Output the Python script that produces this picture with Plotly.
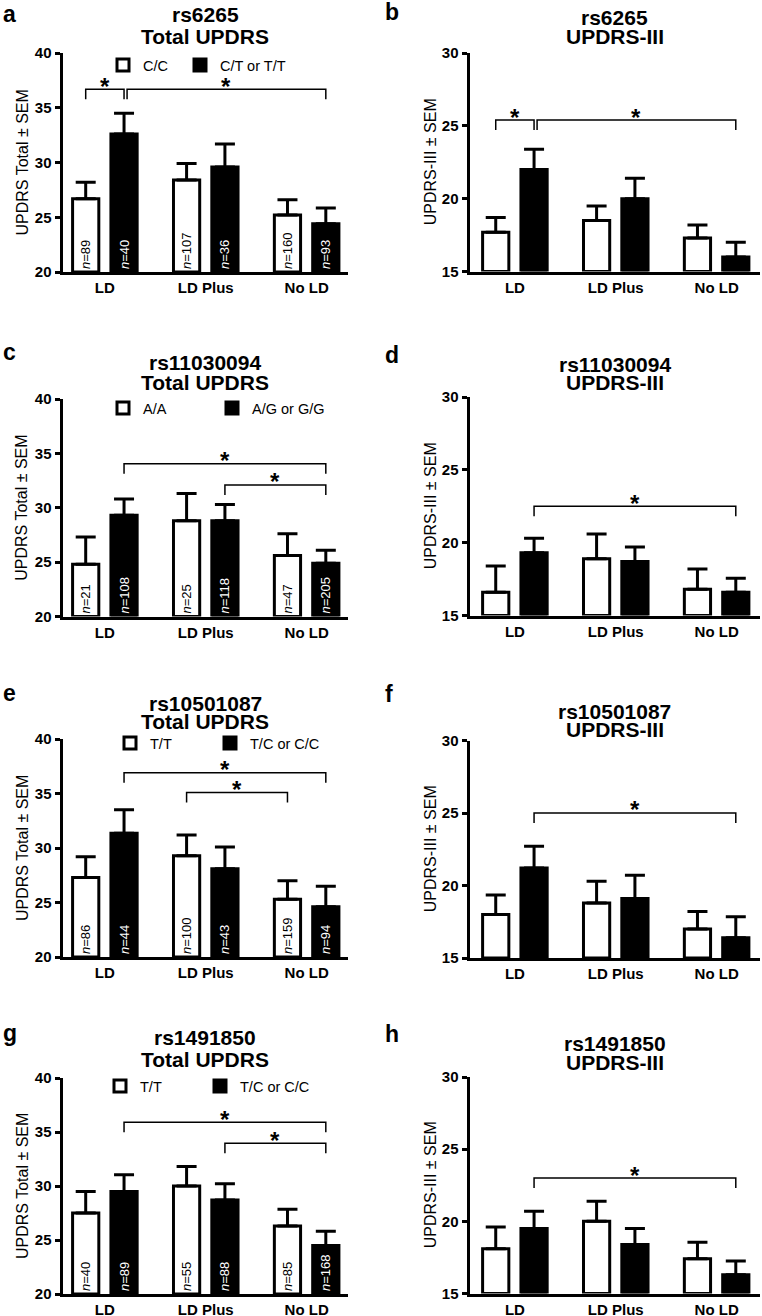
import plotly.graph_objects as go

W, H = 762, 1316
FONT = "Liberation Sans"

# ---------------- data ----------------
CATEGORIES = ["LD", "LD Plus", "No LD"]
X_POS = [0, 1, 2]

# a: rs6265 Total UPDRS
A_REF_NAME, A_ALT_NAME = "C/C", "C/T or T/T"
A_REF_MEAN = [26.7, 28.4, 25.2]
A_REF_SEM = [1.5, 1.5, 1.4]
A_ALT_MEAN = [32.6, 29.6, 24.4]
A_ALT_SEM = [1.9, 2.1, 1.45]
A_REF_N = [89, 107, 160]
A_ALT_N = [40, 36, 93]
A_SIG = [((0, 0), (0, 1), 36.7), ((0, 1), (2, 1), 36.7)]

# b: rs6265 UPDRS-III
B_REF_MEAN = [17.7, 18.5, 17.3]
B_REF_SEM = [1.0, 1.0, 0.9]
B_ALT_MEAN = [22.0, 20.0, 16.0]
B_ALT_SEM = [1.4, 1.4, 1.0]
B_SIG = [((0, 0), (0, 1), 25.4), ((0, 1), (2, 1), 25.4)]

# c: rs11030094 Total UPDRS
C_REF_NAME, C_ALT_NAME = "A/A", "A/G or G/G"
C_REF_MEAN = [24.8, 28.8, 25.6]
C_REF_SEM = [2.5, 2.5, 2.0]
C_ALT_MEAN = [29.3, 28.8, 24.9]
C_ALT_SEM = [1.5, 1.5, 1.2]
C_REF_N = [21, 25, 47]
C_ALT_N = [108, 118, 205]
C_SIG = [((0, 1), (2, 1), 34.05), ((1, 1), (2, 1), 32.1)]

# d: rs11030094 UPDRS-III
D_REF_MEAN = [16.6, 18.9, 16.8]
D_REF_SEM = [1.8, 1.7, 1.4]
D_ALT_MEAN = [19.3, 18.7, 16.6]
D_ALT_SEM = [1.0, 1.0, 0.95]
D_SIG = [((0, 1), (2, 1), 22.5)]

# e: rs10501087 Total UPDRS
E_REF_NAME, E_ALT_NAME = "T/T", "T/C or C/C"
E_REF_MEAN = [27.3, 29.3, 25.3]
E_REF_SEM = [1.9, 1.9, 1.7]
E_ALT_MEAN = [31.35, 28.1, 24.6]
E_ALT_SEM = [2.15, 2.0, 1.9]
E_REF_N = [86, 100, 159]
E_ALT_N = [44, 43, 94]
E_SIG = [((0, 1), (2, 1), 36.9), ((1, 0), (2, 0), 35.1)]

# f: rs10501087 UPDRS-III
F_REF_MEAN = [18.0, 18.8, 17.0]
F_REF_SEM = [1.35, 1.5, 1.2]
F_ALT_MEAN = [21.2, 19.1, 16.4]
F_ALT_SEM = [1.5, 1.6, 1.45]
F_SIG = [((0, 1), (2, 1), 25.0)]

# g: rs1491850 Total UPDRS
G_REF_NAME, G_ALT_NAME = "T/T", "T/C or C/C"
G_REF_MEAN = [27.5, 30.0, 26.3]
G_REF_SEM = [2.0, 1.8, 1.55]
G_ALT_MEAN = [29.5, 28.7, 24.5]
G_ALT_SEM = [1.55, 1.5, 1.3]
G_REF_N = [40, 55, 85]
G_ALT_N = [89, 88, 168]
G_SIG = [((0, 1), (2, 1), 35.9), ((1, 1), (2, 1), 33.95)]

# h: rs1491850 UPDRS-III
H_REF_MEAN = [18.1, 20.0, 17.4]
H_REF_SEM = [1.5, 1.4, 1.15]
H_ALT_MEAN = [19.5, 18.4, 16.3]
H_ALT_SEM = [1.2, 1.1, 0.95]
H_SIG = [((0, 1), (2, 1), 23.0)]

TOTAL_LABEL = "UPDRS Total ± SEM"
III_LABEL = "UPDRS-III ± SEM"
TOTAL_RANGE = (20, 40)
III_RANGE = (15, 30)

panels = [
    dict(letter="a", snp="rs6265", measure="Total UPDRS", ylab=TOTAL_LABEL, yr=TOTAL_RANGE,
         ref=(A_REF_MEAN, A_REF_SEM, A_REF_N), alt=(A_ALT_MEAN, A_ALT_SEM, A_ALT_N),
         names=(A_REF_NAME, A_ALT_NAME), sig=A_SIG),
    dict(letter="b", snp="rs6265", measure="UPDRS-III", ylab=III_LABEL, yr=III_RANGE,
         ref=(B_REF_MEAN, B_REF_SEM, None), alt=(B_ALT_MEAN, B_ALT_SEM, None),
         names=(A_REF_NAME, A_ALT_NAME), sig=B_SIG),
    dict(letter="c", snp="rs11030094", measure="Total UPDRS", ylab=TOTAL_LABEL, yr=TOTAL_RANGE,
         ref=(C_REF_MEAN, C_REF_SEM, C_REF_N), alt=(C_ALT_MEAN, C_ALT_SEM, C_ALT_N),
         names=(C_REF_NAME, C_ALT_NAME), sig=C_SIG),
    dict(letter="d", snp="rs11030094", measure="UPDRS-III", ylab=III_LABEL, yr=III_RANGE,
         ref=(D_REF_MEAN, D_REF_SEM, None), alt=(D_ALT_MEAN, D_ALT_SEM, None),
         names=(C_REF_NAME, C_ALT_NAME), sig=D_SIG),
    dict(letter="e", snp="rs10501087", measure="Total UPDRS", ylab=TOTAL_LABEL, yr=TOTAL_RANGE,
         ref=(E_REF_MEAN, E_REF_SEM, E_REF_N), alt=(E_ALT_MEAN, E_ALT_SEM, E_ALT_N),
         names=(E_REF_NAME, E_ALT_NAME), sig=E_SIG),
    dict(letter="f", snp="rs10501087", measure="UPDRS-III", ylab=III_LABEL, yr=III_RANGE,
         ref=(F_REF_MEAN, F_REF_SEM, None), alt=(F_ALT_MEAN, F_ALT_SEM, None),
         names=(E_REF_NAME, E_ALT_NAME), sig=F_SIG),
    dict(letter="g", snp="rs1491850", measure="Total UPDRS", ylab=TOTAL_LABEL, yr=TOTAL_RANGE,
         ref=(G_REF_MEAN, G_REF_SEM, G_REF_N), alt=(G_ALT_MEAN, G_ALT_SEM, G_ALT_N),
         names=(G_REF_NAME, G_ALT_NAME), sig=G_SIG),
    dict(letter="h", snp="rs1491850", measure="UPDRS-III", ylab=III_LABEL, yr=III_RANGE,
         ref=(H_REF_MEAN, H_REF_SEM, None), alt=(H_ALT_MEAN, H_ALT_SEM, None),
         names=(G_REF_NAME, G_ALT_NAME), sig=H_SIG),
]

# ---------------- layout geometry (pixels) ----------------
COLS = [dict(x0=62.5, x1=348, xr=(-0.42, 2.41), ytitle_x=22, letter_x=1),
        dict(x0=469.5, x1=760, xr=(-0.45, 2.43), ytitle_x=430, letter_x=383)]
PLOT_Y = {"a": (53, 272), "b": (53, 271.5), "c": (399, 616.5), "d": (397, 615.5),
          "e": (739, 957), "f": (740.5, 958), "g": (1078, 1294), "h": (1077, 1293.5)}
TITLE_OFF = {"a": (-38, -16.5), "b": (-35.5, -16.5), "c": (-37, -17), "d": (-33, -15),
             "e": (-36, -17.5), "f": (-29.5, -11.5), "g": (-41, -19), "h": (-33.5, -15)}
LETTER_Y = {"a": 14, "b": 12, "c": 352, "d": 355, "e": 693, "f": 694, "g": 1033, "h": 1034}
# legend: (text start of first entry, text start of second entry, centre y)
LEGEND_POS = {"a": (148, 225, 65), "c": (148, 257, 408), "e": (155, 255, 743), "g": (145, 245, 1086)}
LEGEND_TEXT_OFFSET = 45

HALF = 0.19
BAR_W = 0.26
DROP_PX = 10

def px_x(p):
    return p / W

def px_y(p):
    return 1 - p / H

fig = go.Figure()
annotations = []
layout_extra = {}
legend_counter = [0]

def next_legend_id():
    legend_counter[0] += 1
    return "legend" if legend_counter[0] == 1 else f"legend{legend_counter[0]}"

for i, P in enumerate(panels):
    col = COLS[i % 2]
    k = i + 1
    xa = "x" if k == 1 else f"x{k}"
    ya = "y" if k == 1 else f"y{k}"
    xname = "xaxis" if k == 1 else f"xaxis{k}"
    yname = "yaxis" if k == 1 else f"yaxis{k}"
    top, bot = PLOT_Y[P["letter"]]
    ymin, ymax = P["yr"]
    px_per_unit = (bot - top) / (ymax - ymin)
    has_legend = P["letter"] in LEGEND_POS

    for g, (series, fill, txtcol) in enumerate([(P["ref"], "white", "black"), (P["alt"], "black", "white")]):
        mean, sem, n = series
        off = -HALF if g == 0 else HALF
        texts = None
        if n is not None:
            texts = [f"<i>n</i>={v}" for v in n]
        lg = None
        if has_legend:
            lg = next_legend_id()
            tx0, tx1, ly = LEGEND_POS[P["letter"]]
            tx = tx0 if g == 0 else tx1
            layout_extra[lg] = dict(
                orientation="h", x=px_x(tx - LEGEND_TEXT_OFFSET), y=px_y(ly),
                xanchor="left", yanchor="middle", bgcolor="rgba(0,0,0,0)", borderwidth=0,
                font=dict(family=FONT, size=14.5, color="black"),
            )
        fig.add_trace(go.Bar(
            x=X_POS, y=[m - ymin for m in mean], base=ymin,
            offset=off - BAR_W / 2, width=BAR_W,
            marker=dict(color=fill, line=dict(color="black", width=3)),
            error_y=dict(type="data", array=sem, arrayminus=[0] * len(sem), symmetric=False,
                         color="black", thickness=3, width=10),
            text=texts, textposition="inside" if texts else "none",
            insidetextanchor="start", textangle=-90,
            insidetextfont=dict(family=FONT, size=13, color=txtcol),
            name=P["names"][g], showlegend=lg is not None, legend=lg if lg else "legend",
            xaxis=xa, yaxis=ya, hoverinfo="skip",
        ))

    # significance brackets
    drop = DROP_PX / px_per_unit
    ends_used = []
    for (c1, g1), (c2, g2), yb in P["sig"]:
        xs = X_POS[c1] + (-HALF if g1 == 0 else HALF)
        xe = X_POS[c2] + (-HALF if g2 == 0 else HALF)
        if any(abs(xs - e) < 1e-9 for e in ends_used):
            xs += 0.03
        ends_used.append(xe)
        fig.add_trace(go.Scatter(
            x=[xs, xs, xe, xe], y=[yb - drop, yb, yb, yb - drop], mode="lines",
            line=dict(color="black", width=1.5), showlegend=False, hoverinfo="skip",
            xaxis=xa, yaxis=ya,
        ))
        annotations.append(dict(
            x=(xs + xe) / 2, y=yb, xref=xa, yref=ya, text="<b>*</b>", showarrow=False,
            font=dict(family=FONT, size=24, color="black"), xanchor="center",
            yanchor="middle", yshift=3,
        ))

    layout_extra[xname] = dict(
        domain=[px_x(col["x0"]), px_x(col["x1"])], range=list(col["xr"]), anchor=ya,
        tickvals=X_POS, ticktext=CATEGORIES, ticks="", showline=True, linewidth=3,
        linecolor="black", showgrid=False, zeroline=False,
        tickfont=dict(family=FONT, size=15, color="black", weight="bold"),
    )
    layout_extra[yname] = dict(
        domain=[px_y(bot), px_y(top)], range=[ymin, ymax], anchor=xa, dtick=5, tick0=0,
        ticks="outside", ticklen=5, tickwidth=3, tickcolor="black", showline=True,
        linewidth=3, linecolor="black", showgrid=False, zeroline=False,
        tickfont=dict(family=FONT, size=15, color="black", weight="bold"),
    )

    cx = (col["x0"] + col["x1"]) / 2
    o1, o2 = TITLE_OFF[P["letter"]]
    annotations.append(dict(x=px_x(cx), y=px_y(top + o1), xref="paper", yref="paper",
                            text=f"<b>{P['snp']}</b>", showarrow=False, xanchor="center",
                            yanchor="middle", font=dict(family=FONT, size=21, color="black")))
    annotations.append(dict(x=px_x(cx), y=px_y(top + o2), xref="paper", yref="paper",
                            text=f"<b>{P['measure']}</b>", showarrow=False, xanchor="center",
                            yanchor="middle", font=dict(family=FONT, size=21, color="black")))
    annotations.append(dict(x=px_x(col["letter_x"]), y=px_y(LETTER_Y[P["letter"]]),
                            xref="paper", yref="paper", text=f"<b>{P['letter']}</b>",
                            showarrow=False, xanchor="left", yanchor="middle",
                            font=dict(family=FONT, size=23, color="black")))
    annotations.append(dict(x=px_x(col["ytitle_x"]), y=px_y((top + bot) / 2),
                            xref="paper", yref="paper", text=P["ylab"], textangle=-90,
                            showarrow=False, xanchor="center", yanchor="middle",
                            font=dict(family=FONT, size=16, color="black")))

fig.update_layout(
    width=W, height=H, margin=dict(l=0, r=0, t=0, b=0, autoexpand=False), autosize=False,
    paper_bgcolor="white", plot_bgcolor="white", barmode="overlay",
    annotations=annotations, font=dict(family=FONT, color="black"),
    **layout_extra,
)

fig.write_html(
    "out.html",
    config={"displayModeBar": False},
    post_script="document.body.style.margin='0';document.body.style.padding='0';"
                "document.documentElement.style.margin='0';",
)
